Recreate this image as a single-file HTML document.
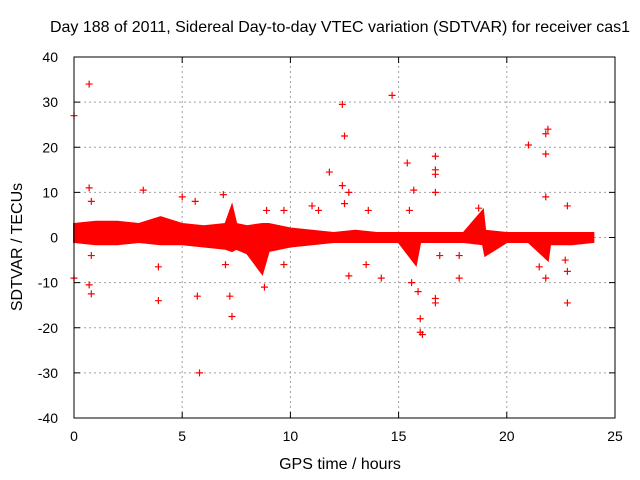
<!DOCTYPE html>
<html><head><meta charset="utf-8"><style>
body{margin:0;background:#fff}
svg{display:block;font-family:"Liberation Sans",sans-serif}
</style></head><body>
<svg id="c" width="640" height="480"></svg>
<script>
const bandT=[0,1,2,3,4,5,6,7,7.3,7.5,8,8.7,9,10,11,12,13,14,15,15.8,16,17,18,18.9,19,20,21,21.9,22,23,24];
const bandHi=[3,3.5,3.5,3,4.5,3,2.5,3,7,3,2.5,3,3,2,1.5,1,1.5,1,1,1,1,1,1,6,1.5,1,1,1,1,1,1];
const bandLo=[-1,-1.5,-1.5,-1,-1.5,-1.5,-2,-2.5,-3,-2.5,-3.5,-8,-3,-2,-1.5,-1,-1,-1,-1,-6,-1,-1,-1,-1.5,-4,-1,-1,-5,-1.5,-1.5,-1];
const outT=[0,0.7,0.7,0.8,0.8,0.7,0.8,0,3.2,3.9,3.9,5,5.7,5.8,5.6,6.9,7.2,7.3,7,8.8,8.9,9.7,9.7,11,11.3,11.8,12.4,12.5,12.4,12.7,12.5,12.7,13.6,13.5,14.2,14.7,15.4,15.7,15.5,15.6,15.9,16,16,16.1,16.7,16.7,16.7,16.7,16.7,16.7,17.8,18.7,21,21.8,21.8,21.9,21.8,21.5,21.8,22.8,22.8,22.8,22.7,16.9,17.8];
const outV=[27,34,11,8,-4,-10.5,-12.5,-9,10.5,-6.5,-14,9,-13,-30,8,9.5,-13,-17.5,-6,-11,6,6,-6,7,6,14.5,29.5,22.5,11.5,10,7.5,-8.5,6,-6,-9,31.5,16.5,10.5,6,-10,-12,-18,-21,-21.5,18,15,14,10,-13.5,-14.5,-9,6.5,20.5,18.5,23,24,9,-6.5,-9,7,-7.5,-14.5,-5,-4,-4];
const xTicks=[0,5,10,15,20,25];
const yTicks=[-40,-30,-20,-10,0,10,20,30,40];
const X0=74,X1=615,Y0=418,Y1=57;
const sx=v=>X0+(v/25)*(X1-X0), sy=v=>Y0-((v+40)/80)*(Y0-Y1);
const svg=document.getElementById('c');const NS='http://www.w3.org/2000/svg';
function mk(t,a,p){const e=document.createElementNS(NS,t);for(const k in a)e.setAttribute(k,a[k]);(p||svg).appendChild(e);return e;}
xTicks.forEach(v=>{
 const g=mk('g',{});
 
 
 if(v>0&&v<25)mk('line',{x1:sx(v),x2:sx(v),y1:Y0,y2:Y1,stroke:'#a0a0a0','stroke-dasharray':'2,3'},g);
 mk('line',{x1:sx(v),x2:sx(v),y1:Y0,y2:Y0-6,stroke:'#000'},g);
 mk('line',{x1:sx(v),x2:sx(v),y1:Y1,y2:Y1+6,stroke:'#000'},g);
 const t=mk('text',{x:sx(v),y:Y0+23,'text-anchor':'middle','font-size':14},g);t.textContent=v;
});
yTicks.forEach(v=>{
 const g=mk('g',{});
 
 
 if(v>-40&&v<40)mk('line',{x1:X0,x2:X1,y1:sy(v),y2:sy(v),stroke:'#a0a0a0','stroke-dasharray':'2,3'},g);
 mk('line',{x1:X0,x2:X0+6,y1:sy(v),y2:sy(v),stroke:'#000'},g);
 mk('line',{x1:X1,x2:X1-6,y1:sy(v),y2:sy(v),stroke:'#000'},g);
 const t=mk('text',{x:X0-16,y:sy(v)+5,'text-anchor':'end','font-size':14},g);t.textContent=v;
});
let pts=bandT.map((t,i)=>sx(t)+','+sy(bandHi[i]));
for(let i=bandT.length-1;i>=0;i--)pts.push(sx(bandT[i])+','+sy(bandLo[i]));
const band=mk('polygon',{points:pts.join(' '),fill:'#f00',stroke:'#f00','stroke-width':2});


let d='';
outT.forEach((t,i)=>{const x=sx(t),y=sy(outV[i]);d+=`M${x-3.5},${y}h7M${x},${y-3.5}v7`;});
const op=mk('path',{d:d,stroke:'#f00','stroke-width':1.2,fill:'none'});


const fr=mk('rect',{x:X0,y:Y1,width:X1-X0,height:Y0-Y1,fill:'none',stroke:'#000'});


</script>
<div style="position:absolute;left:0;top:0;width:640px;height:480px;pointer-events:none;font-family:'Liberation Sans',sans-serif">
<div style="position:absolute;left:40px;width:600px;top:19px;text-align:center;font-size:16px;white-space:nowrap">Day 188 of 2011, Sidereal Day-to-day VTEC variation (SDTVAR) for receiver cas1</div>
<div style="position:absolute;left:240px;width:200px;top:456px;text-align:center;font-size:16px">GPS time / hours</div>
<div style="position:absolute;left:-62px;top:238px;width:160px;text-align:center;font-size:16px;transform:rotate(-90deg)">SDTVAR / TECUs</div>
</div>
</body></html>
